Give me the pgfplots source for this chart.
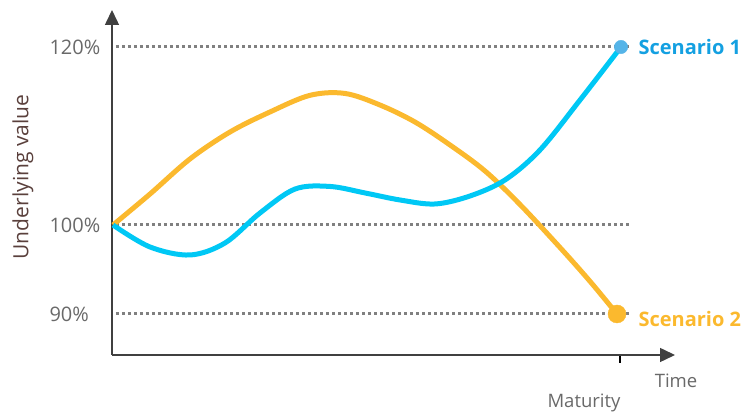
\documentclass[border=0pt]{standalone}
\usepackage{pgfplots}
\pgfplotsset{compat=1.18}
\usepackage{fontspec}
\setmainfont{Open Sans}
\usetikzlibrary{arrows.meta}

\definecolor{scenA}{RGB}{0,200,245}
\definecolor{scenAtext}{RGB}{20,160,225}
\definecolor{scenAdot}{RGB}{85,180,232}
\definecolor{scenB}{RGB}{251,185,46}
\definecolor{gridgray}{RGB}{128,128,128}
\definecolor{ticktext}{RGB}{105,105,105}
\definecolor{labelbrown}{RGB}{90,64,60}
\definecolor{axisdark}{RGB}{64,64,64}

% Scenario paths: time (arbitrary units) vs. underlying value in %
\pgfplotstableread{
t   v
113 100
150 97.53
190 96.63
225 97.98
260 101.35
295 104.04
330 104.33
365 103.60
400 102.81
435 102.36
470 103.26
505 105.06
540 108.43
580 114.04
621 120
}\scenarioone

\pgfplotstableread{
t   v
113 100
150 103.48
190 107.42
230 110.45
270 112.70
310 114.57
345 114.78
380 113.48
415 111.57
450 108.99
485 106.07
520 102.30
560 97.47
590 93.67
617 90
}\scenariotwo

\newcommand\sz[1]{\fontsize{#1bp}{#1bp}\selectfont}

\begin{document}
\begin{tikzpicture}
\begin{axis}[
  scale only axis,
  width=563bp, height=345bp,
  xmin=112, xmax=675, ymin=85.393, ymax=124.157,
  axis lines=left,
  axis line style={line width=1.5bp, color=axisdark, -{Triangle[length=15bp,width=14bp]}},
  clip=false,
  ytick={90,100,120}, yticklabels={90\%,100\%,120\%},
  ytick style={draw=none},
  yticklabel style={anchor=west, xshift=-62bp, font=\sz{20}, text=ticktext},
  xtick={620}, xticklabels={Maturity},
  xtick align=outside, major tick length=8bp,
  xtick style={line width=1.5bp, color=black},
  xticklabel style={anchor=north east, xshift=4bp, yshift=-27bp, font=\sz{18.5}, text=ticktext},
  xlabel={Time},
  xlabel style={at={(rel axis cs:1.0018,-0.0754)}, anchor=center, font=\sz{18.5}, text=ticktext},
  ylabel={Underlying value},
  ylabel style={at={(rel axis cs:-0.1581,0.516)}, anchor=center, font=\sz{21}, text=labelbrown},
]
% end-point markers
\addplot[only marks, mark=*, mark size=6.7bp, color=scenAdot, forget plot] coordinates {(621,120)};
\addplot[only marks, mark=*, mark size=9bp, color=scenB, forget plot] coordinates {(617,90)};

% reference levels
\addplot[gridgray, line width=3bp, dash pattern=on 3bp off 3bp, forget plot] coordinates {(116,120) (630,120)};
\addplot[gridgray, line width=3bp, dash pattern=on 3bp off 3bp, forget plot] coordinates {(116,100) (630,100)};
\addplot[gridgray, line width=3bp, dash pattern=on 3bp off 3bp, forget plot] coordinates {(116,90) (630,90)};

% the two scenarios
\addplot[scenB, line width=5bp, smooth, tension=0.55] table[x=t, y=v] {\scenariotwo};
\addplot[scenA, line width=5bp, smooth, tension=0.55] table[x=t, y=v] {\scenarioone};

\node[anchor=west, font=\bfseries\sz{20}, text=scenAtext] at (axis cs:635,120) {Scenario 1};
\node[anchor=west, font=\bfseries\sz{20}, text=scenB] at (axis cs:635,89.44) {Scenario 2};

\coordinate (bl) at (axis cs:0,78.76);
\coordinate (tr) at (axis cs:745,125.28);
\end{axis}
\pgfresetboundingbox
\useasboundingbox (bl) rectangle (tr);
\end{tikzpicture}
\end{document}
